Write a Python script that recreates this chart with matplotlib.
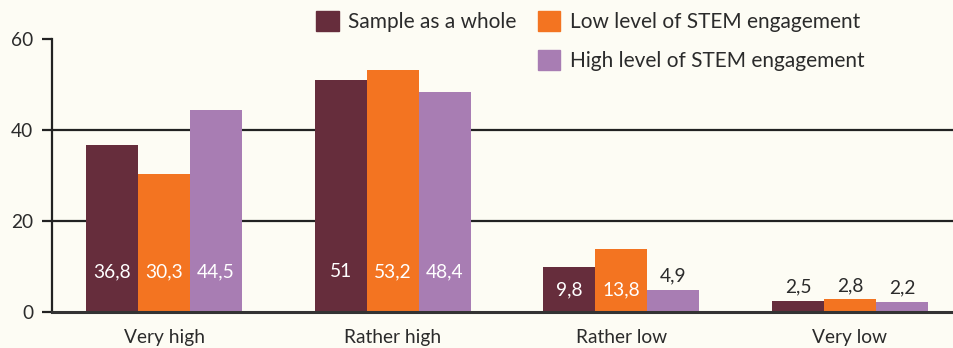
import matplotlib.pyplot as plt
from matplotlib.patches import Patch
import numpy as np

# answer categories and shares (%) per group
categories = ['Very high', 'Rather high', 'Rather low', 'Very low']
series_names = ['Sample as a whole', 'Low level of STEM engagement', 'High level of STEM engagement']
sample_whole = [36.8, 51, 9.8, 2.5]
low_stem = [30.3, 53.2, 13.8, 2.8]
high_stem = [44.5, 48.4, 4.9, 2.2]

colors = ['#662d3c', '#f37421', '#a87db3']
bg = '#fdfcf4'
ink = '#2b2b2b'

plt.rcParams['font.family'] = ['Lato', 'DejaVu Sans']

fig = plt.figure(figsize=(9.54, 3.48), dpi=100, facecolor=bg)
ax = fig.add_axes([0.0545, 0.1034, 0.9455, 0.7845], facecolor=bg)

x = np.arange(len(categories))
w = 0.227
fs = 13.8
leg_fs = 15

for i, vals in enumerate([sample_whole, low_stem, high_stem]):
    pos = x + (i - 1) * w
    ax.bar(pos, vals, width=w, color=colors[i], zorder=3)
    for px, v in zip(pos, vals):
        txt = ('%g' % v).replace('.', ',')
        if v > 20:
            ax.text(px, 8.8, txt, ha='center', va='center', color='white', fontsize=fs, zorder=4)
        elif v > 8:
            ax.text(px, 4.8, txt, ha='center', va='center', color='white', fontsize=fs, zorder=4)
        else:
            ax.text(px, v + 3.0, txt, ha='center', va='center', color=ink, fontsize=fs, zorder=4)

ax.set_xlim(-0.49, 3.455)
ax.set_ylim(0, 60)
ax.set_yticks([0, 20, 40, 60])
ax.set_xticks(x)
ax.set_xticklabels(categories)

for yv in [20, 40]:
    ax.axhline(yv, color='#222222', lw=1.6, zorder=1)

for s in ['top', 'right']:
    ax.spines[s].set_visible(False)
ax.spines['left'].set_linewidth(1.6)
ax.spines['left'].set_color('#222222')
ax.spines['bottom'].set_linewidth(2.2)
ax.spines['bottom'].set_color('#333333')
ax.spines['bottom'].set_zorder(5)

ax.tick_params(axis='y', length=7.5, width=1.6, color='#222222', pad=6, labelsize=fs, labelcolor=ink)
ax.tick_params(axis='x', length=0, pad=12.5, labelsize=fs, labelcolor=ink)

handles = [Patch(color=colors[0]), Patch(color='none'), Patch(color=colors[1]), Patch(color=colors[2])]
labels = [series_names[0], '', series_names[1], series_names[2]]
fig.legend(handles, labels, loc='upper left', bbox_to_anchor=(316 / 954, 1 - 11 / 348),
           bbox_transform=fig.transFigure, ncol=2, frameon=False, fontsize=leg_fs,
           handlelength=1.1, handleheight=1.1, handletextpad=0.45, columnspacing=1.0,
           labelspacing=0.85, borderpad=0, borderaxespad=0, labelcolor=ink)

fig.savefig('out.png', dpi=100, facecolor=bg)
